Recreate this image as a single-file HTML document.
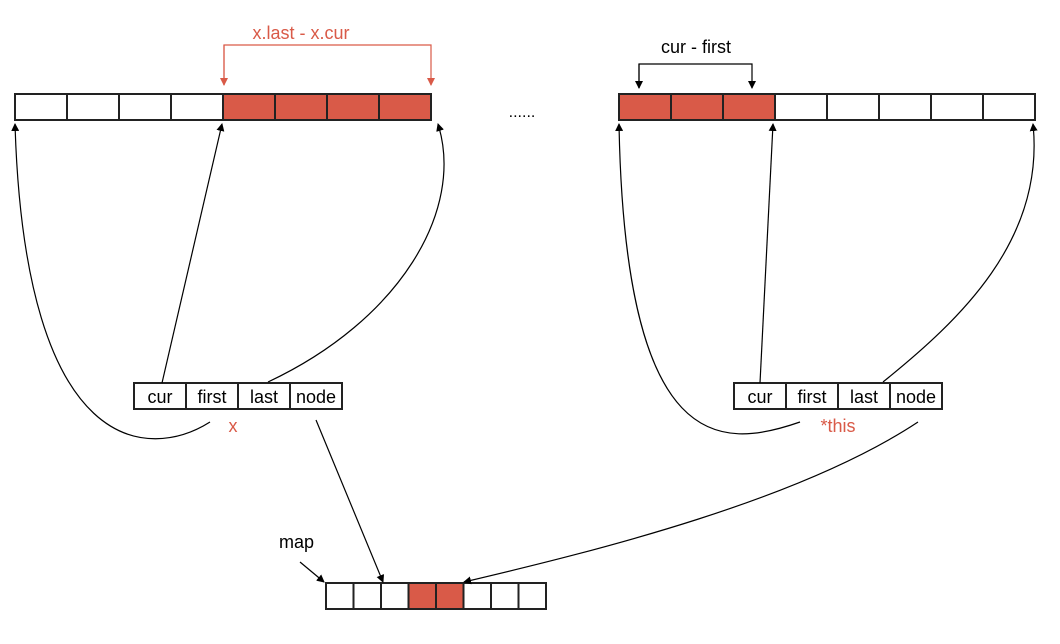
<!DOCTYPE html>
<html><head><meta charset="utf-8"><style>
html,body{margin:0;padding:0;background:#fff;}
svg{display:block;font-family:"Liberation Sans",sans-serif;}
</style></head><body>
<svg width="1060" height="644" viewBox="0 0 1060 644">
<defs>
<marker id="ab" markerWidth="8" markerHeight="8" refX="7" refY="4" orient="auto" markerUnits="userSpaceOnUse"><path d="M0,0 L8,4 L0,8 z" fill="#000"/></marker>
<marker id="ar" markerWidth="8" markerHeight="8" refX="7" refY="4" orient="auto" markerUnits="userSpaceOnUse"><path d="M0,0 L8,4 L0,8 z" fill="#d95a48"/></marker>
</defs>
<g id="cells" stroke="#222" stroke-width="2"></g>
<g fill="none" stroke="#000" stroke-width="1.2">
<path d="M210,422 C150,460 25,460 15,124" marker-end="url(#ab)"/>
<path d="M162,383 L222,124" marker-end="url(#ab)"/>
<path d="M268,382 C400,320 465,210 438,124" marker-end="url(#ab)"/>
<path d="M316,420 L383,582" marker-end="url(#ab)"/>
<path d="M300,562 L324,582" marker-end="url(#ab)"/>
<path d="M800,422 C720,450 625,455 619,124" marker-end="url(#ab)"/>
<path d="M760,383 L773,124" marker-end="url(#ab)"/>
<path d="M883,382 C960,320 1045,240 1033,124" marker-end="url(#ab)"/>
<path d="M918,422 C800,500 600,550 464,582" marker-end="url(#ab)"/>
<path d="M639,88 L639,64 L752,64 L752,88" marker-end="url(#ab)"/>
<path d="M639,64 L639,88" marker-end="url(#ab)"/>
</g>
<g fill="none" stroke="#d95a48" stroke-width="1.2">
<path d="M224,85 L224,45 L431,45 L431,85" marker-end="url(#ar)"/>
<path d="M224,45 L224,85" marker-end="url(#ar)"/>
</g>
<text x="301" y="39" font-size="18" fill="#d95a48" text-anchor="middle">x.last - x.cur</text>
<text x="696" y="53" font-size="18" fill="#000" text-anchor="middle">cur - first</text>
<text x="522" y="117" font-size="16" fill="#000" text-anchor="middle">......</text>
<text x="233" y="432" font-size="18" fill="#d95a48" text-anchor="middle">x</text>
<text x="838" y="432" font-size="18" fill="#d95a48" text-anchor="middle">*this</text>
<text x="279" y="548" font-size="18" fill="#000">map</text>
</svg>
<script>
const g=document.getElementById('cells');
const NS='http://www.w3.org/2000/svg';
function row(x0,y,w,h,n,red,name){
 for(let i=0;i<n;i++){
  const r=document.createElementNS(NS,'rect');
  r.setAttribute('x',x0+i*w);r.setAttribute('y',y);r.setAttribute('width',w);r.setAttribute('height',h);
  r.setAttribute('fill',red.includes(i)?'#d95a48':'#fff');
  
  
  g.appendChild(r);
 }
}
row(15,94,52,26,8,[4,5,6,7],'buffer-left');
row(619,94,52,26,8,[0,1,2],'buffer-right');
row(326,583,27.5,26,8,[3,4],'map');
function struct(x0,name){
 const labels=['cur','first','last','node'];
 labels.forEach((t,i)=>{
  const r=document.createElementNS(NS,'rect');
  r.setAttribute('x',x0+i*52);r.setAttribute('y',383);r.setAttribute('width',52);r.setAttribute('height',26);r.setAttribute('fill','#fff');
  
  
  g.appendChild(r);
  const tx=document.createElementNS(NS,'text');
  tx.setAttribute('x',x0+i*52+26);tx.setAttribute('y',403);tx.setAttribute('text-anchor','middle');
  tx.setAttribute('font-size','18');tx.setAttribute('stroke','none');tx.setAttribute('fill','#000');
  tx.textContent=t;
  
  
  g.appendChild(tx);
 });
}
struct(134,'iterator-x');
struct(734,'iterator-this');
</script>
</body></html>
